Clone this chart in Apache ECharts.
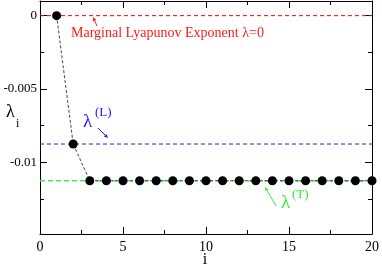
<!DOCTYPE html>
<html>
<head>
<meta charset="utf-8">
<script src="https://cdn.jsdelivr.net/npm/echarts@6/dist/echarts.min.js"></script>
<style>
html,body{margin:0;padding:0;background:#fff;}
#chart{width:382px;height:268px;}
</style>
</head>
<body>
<div id="chart"></div>
<script>
// ---- data ----
const indices = [1,2,3,4,5,6,7,8,9,10,11,12,13,14,15,16,17,18,19,20];
const exponents = [0, -0.00876, -0.01127, -0.01127, -0.01127, -0.01127, -0.01127, -0.01127, -0.01127, -0.01127,
  -0.01127, -0.01127, -0.01127, -0.01127, -0.01127, -0.01127, -0.01127, -0.01127, -0.01127, -0.01127];
const marginalValue = 0;
const lambdaL = -0.00876;
const lambdaT = -0.01127;
const xTicks = [0, 5, 10, 15, 20];
const yMajorTicks = [0, -0.005, -0.01];
const yMinorTicks = [-0.0025, -0.0075, -0.0125];
const yMin = -0.0149, yMax = 0.001;

const FONT = '"Liberation Serif", "Times New Roman", "DejaVu Serif", serif';
const chart = echarts.init(document.getElementById('chart'), null, {renderer: 'canvas'});

function yAx(pos, ticks, len, labels) {
  return {
    type: 'value', position: pos, min: yMin, max: yMax,
    axisLine: {show: labels !== null ? true : false, lineStyle: {color: '#000', width: 1}},
    axisTick: {show: true, inside: true, length: len, customValues: ticks, lineStyle: {color: '#000', width: 1}},
    axisLabel: labels ? {show: true, customValues: ticks, fontFamily: FONT, fontSize: 13, color: '#000', margin: 3,
      formatter: v => (Math.abs(v) < 1e-12 ? '0' : String(+v.toFixed(4)))} : {show: false},
    splitLine: {show: false}
  };
}
function xAx(pos, showLabels) {
  return {
    type: 'value', position: pos, min: 0, max: 20, interval: 5,
    axisLine: {show: true, onZero: false, lineStyle: {color: '#000', width: 1}},
    axisTick: {show: true, inside: true, length: 7, customValues: xTicks, lineStyle: {color: '#000'}},
    minorTick: {show: true, splitNumber: 2, length: 4, lineStyle: {color: '#000'}},
    axisLabel: showLabels ? {show: true, customValues: xTicks, fontFamily: FONT, fontSize: 14, color: '#000', margin: 6} : {show: false},
    splitLine: {show: false}, minorSplitLine: {show: false}
  };
}

const option = {
  animation: false,
  textStyle: {fontFamily: FONT},
  grid: {left: 40, right: 10, top: 1, bottom: 34},
  xAxis: [xAx('bottom', true), xAx('top', false)],
  yAxis: [
    yAx('left', yMajorTicks, 7, true),
    Object.assign(yAx('left', yMinorTicks, 4, null), {axisLine: {show: false}}),
    Object.assign(yAx('right', yMajorTicks, 7, false), {axisLine: {show: true, lineStyle: {color: '#000'}}}),
    Object.assign(yAx('right', yMinorTicks, 4, null), {axisLine: {show: false}})
  ],
  series: [
    {
      type: 'line', xAxisIndex: 0, yAxisIndex: 0, silent: true,
      data: [[0, marginalValue], [20, marginalValue]], symbol: 'none',
      lineStyle: {color: '#ff0000', width: 1, type: [4, 3]}, z: 1
    },
    {
      type: 'line', xAxisIndex: 0, yAxisIndex: 0, silent: true,
      data: [[0, lambdaL], [20, lambdaL]], symbol: 'none',
      lineStyle: {color: '#2020ff', width: 1, type: [4, 3]}, z: 1
    },
    {
      type: 'line', xAxisIndex: 0, yAxisIndex: 0, silent: true,
      data: [[0, lambdaT], [20, lambdaT]], symbol: 'none',
      lineStyle: {color: '#44ee44', width: 1.5, type: [5, 3]}, z: 1
    },
    {
      type: 'line', xAxisIndex: 0, yAxisIndex: 0,
      data: indices.map((x, i) => [x, exponents[i]]),
      symbol: 'circle', symbolSize: 9, showSymbol: true,
      itemStyle: {color: '#000'},
      lineStyle: {color: '#444', width: 1, type: [3, 2]}, z: 3
    }
  ]
};
chart.setOption(option);

function arrow(x1, y1, x2, y2, color) {
  const ang = Math.atan2(y2 - y1, x2 - x1);
  const L = 4, W = 1.8;
  const bx = x2 - L * Math.cos(ang), by = y2 - L * Math.sin(ang);
  const px = -Math.sin(ang) * W, py = Math.cos(ang) * W;
  return [
    {type: 'line', shape: {x1: x1, y1: y1, x2: bx, y2: by}, style: {stroke: color, lineWidth: 1}, z: 10},
    {type: 'polygon', shape: {points: [[x2, y2], [bx + px, by + py], [bx - px, by - py]]}, style: {fill: color}, z: 10}
  ];
}
function txt(x, y, s, size, color, align) {
  return {type: 'text', x: x, y: y, z: 10,
    style: {text: s, fontFamily: FONT, fontSize: size, fill: color, align: align || 'left', verticalAlign: 'middle'}};
}

const red = '#ff1a1a', blue = '#1a1aff', green = '#33ee33';
const g = [];
g.push(txt(71, 33, 'Marginal Lyapunov Exponent \u03bb=0', 14, red));
g.push(...arrow(97, 26, 93, 17, red));
g.push(txt(83, 122, '\u03bb', 19, blue));
g.push(txt(95, 113, '(L)', 13, blue));
g.push(...arrow(98, 128, 108, 138, blue));
g.push(txt(281, 203, '\u03bb', 19, green));
g.push(txt(292, 195, '(T)', 13, green));
g.push(...arrow(276, 206, 265, 187, green));
g.push(txt(6, 112, '\u03bb', 18, '#000'));
g.push(txt(16, 124, 'i', 12, '#000'));
g.push(txt(205, 260, 'i', 16, '#000', 'center'));
chart.setOption({graphic: g});
</script>
</body>
</html>
